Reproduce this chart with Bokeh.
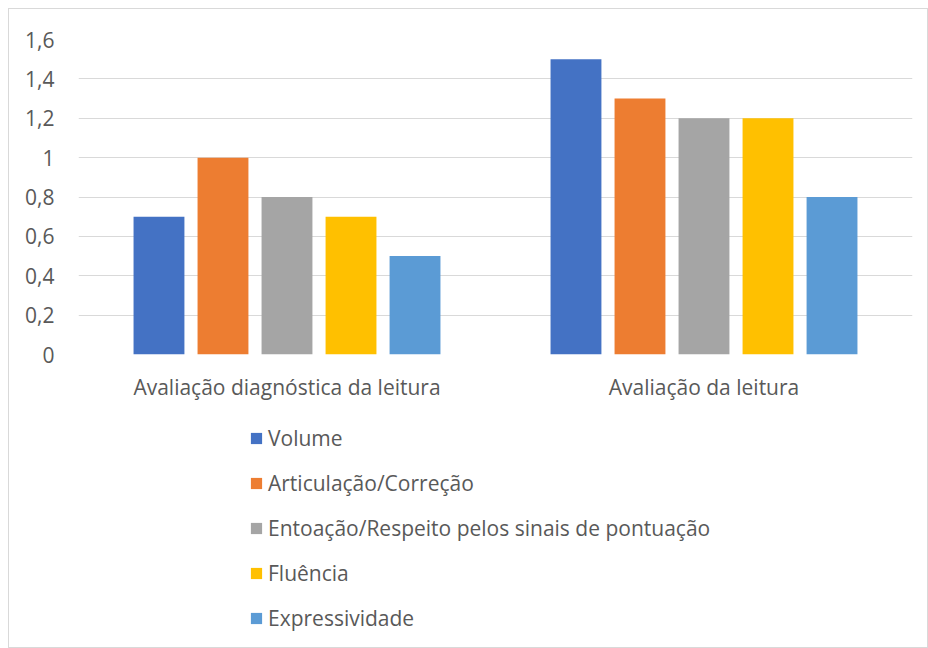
from bokeh.plotting import figure
from bokeh.layouts import column
from bokeh.models import (ColumnDataSource, FactorRange, Range1d, Legend, LegendItem,
                          FixedTicker, CustomJSTickFormatter)
from bokeh.transform import dodge
from bokeh.embed import file_html
from bokeh.resources import INLINE

categories = ["Avaliação diagnóstica da leitura", "Avaliação da leitura"]
series_names = ["Volume", "Articulação/Correção",
                "Entoação/Respeito pelos sinais de pontuação", "Fluência", "Expressividade"]
volume = [0.7, 1.5]
articulacao = [1.0, 1.3]
entoacao = [0.8, 1.2]
fluencia = [0.7, 1.2]
expressividade = [0.5, 0.8]
colors = ["#4472C4", "#ED7D31", "#A5A5A5", "#FFC000", "#5B9BD5"]
y_ticks = [0, 0.2, 0.4, 0.6, 0.8, 1.0, 1.2, 1.4, 1.6]

FONT = "Open Sans"
FS = "21px"
TEXT = "#595959"
GRID = "#D9D9D9"

source = ColumnDataSource(dict(cat=categories, s0=volume, s1=articulacao, s2=entoacao,
                               s3=fluencia, s4=expressividade))

p = figure(width=918, height=400, output_backend="svg", toolbar_location=None,
           x_range=FactorRange(*categories, range_padding=0), y_range=Range1d(0, 1.6),
           min_border_left=69, min_border_right=15, min_border_top=30, min_border_bottom=55)
p.outline_line_color = None
p.background_fill_color = "white"
p.border_fill_color = "white"

for j in range(5):
    p.vbar(x=dodge("cat", (j - 2) * 0.1535, range=p.x_range), top="s%d" % j,
           width=0.122, source=source, fill_color=colors[j], line_color=None)

p.xgrid.grid_line_color = None
p.ygrid.grid_line_color = GRID
p.ygrid.grid_line_width = 1
p.yaxis.ticker = FixedTicker(ticks=y_ticks)
p.yaxis.formatter = CustomJSTickFormatter(
    code="return Number(tick.toFixed(1)).toString().replace('.', ',');")

for ax in (p.xaxis[0], p.yaxis[0]):
    ax.axis_line_color = None
    ax.major_tick_line_color = None
    ax.minor_tick_line_color = None
    ax.major_label_text_font = FONT
    ax.major_label_text_font_size = FS
    ax.major_label_text_color = TEXT
p.yaxis.major_label_standoff = 18
p.xaxis.major_label_standoff = 12

# legend panel: a second figure below the chart whose view shows no bars, only the legend
q = figure(width=918, height=238, output_backend="svg", toolbar_location=None,
           x_range=FactorRange(*categories), y_range=Range1d(5, 6),
           x_axis_type=None, y_axis_type=None,
           min_border_left=0, min_border_right=0, min_border_top=0, min_border_bottom=0)
q.outline_line_color = None
q.xgrid.grid_line_color = None
q.ygrid.grid_line_color = None
q.border_fill_color = "white"
q.background_fill_color = "white"
swatches = [q.vbar(x="cat", top="s%d" % j, width=0.1, source=source,
                   fill_color=colors[j], line_color=None) for j in range(5)]

legend = Legend(items=[LegendItem(label=series_names[j], renderers=[swatches[j]]) for j in range(5)],
                location=(171, 15), orientation="vertical")
legend.label_text_font = FONT
legend.label_text_font_size = FS
legend.label_text_color = TEXT
legend.glyph_width = 14
legend.glyph_height = 14
legend.label_standoff = 5
legend.label_height = 20
legend.spacing = 17
legend.padding = 0
legend.margin = 0
legend.border_line_color = None
legend.background_fill_alpha = 0
q.add_layout(legend)

layout = column(p, q, spacing=0)
layout.styles = {"border": "1px solid #D9D9D9", "margin-left": "8px", "margin-top": "8px"}

open("out.html", "w").write(file_html(layout, INLINE))
